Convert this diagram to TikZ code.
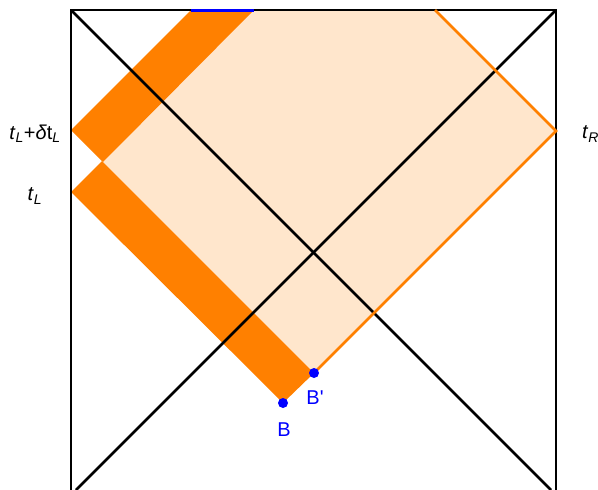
\documentclass[tikz,border=0pt]{standalone}
\usepackage{fontspec}
\setmainfont{Liberation Sans}
\definecolor{orng}{RGB}{255,128,0}
\definecolor{peach}{RGB}{255,230,204}
\definecolor{blu}{RGB}{0,0,255}
\tikzset{
  wall/.style={black,line width=2.8pt},
  edgeline/.style={orng,line width=2.8pt},
  pt/.style={circle,fill=blu,inner sep=0pt,minimum size=10pt},
  lbl/.style={font=\fontsize{20}{23}\selectfont,inner sep=0pt},
  blbl/.style={lbl,text=blu}
}
\begin{document}
\begin{tikzpicture}[x=1pt,y=-1pt]
\useasboundingbox (0,0) rectangle (598,490);
% light region
\fill[peach] (103,162) -- (254,10) -- (435,10) -- (556,131) -- (314,373) -- cycle;
% orange bands
\fill[orng] (71,130) -- (191,10) -- (254,10) -- (103,162) -- cycle;
\fill[orng] (71,192) -- (102,161) -- (314,373) -- (283,403) -- cycle;
\coordinate (Bp) at (314,373);
\coordinate (B) at (283,403);
\coordinate (R) at (556,131);
\coordinate (T) at (435,10);
% walls and diagonals
\draw[wall] (71,490) -- (71,10) -- (556,10) -- (556,490);
\draw[wall] (71,10) -- (551,490);
\draw[wall] (556,10) -- (76,490);
% orange outline
\draw[edgeline,line join=miter] (Bp) -- (R) -- (T);
% blue segment on top
\draw[blu,line width=3pt] (191,10) -- (254,10);
% points
\node[pt] (nB) at (B) {};
\node[pt] (nBp) at (Bp) {};
\node[blbl] (lB) at (284,430) {B};
\node[blbl] (lBp) at (315,398) {B\textquotesingle};
% time labels
\node[lbl] (tld) at (35,134) {\textit{t}\textsubscript{\textit{L}}+\textit{δ}t\textsubscript{\textit{L}}};
\node[lbl] (tl) at (35,196) {\textit{t}\textsubscript{\textit{L}}};
\node[lbl,anchor=west] (tr) at (582,134) {\textit{t}\textsubscript{\textit{R}}};
\end{tikzpicture}
\end{document}
